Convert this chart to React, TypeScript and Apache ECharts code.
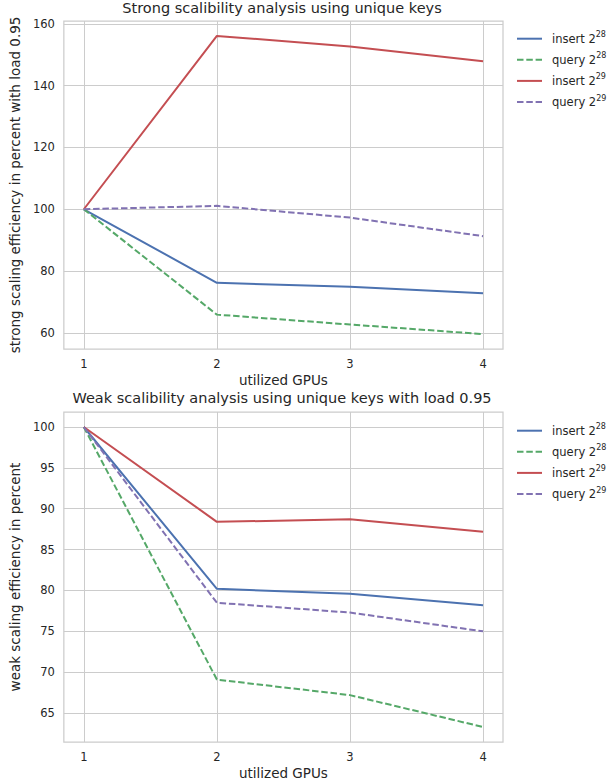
import React, { useEffect, useRef } from "react";
import * as echarts from "echarts";

const gpus = [1, 2, 3, 4];
const seriesBase = ["insert 2", "query 2", "insert 2", "query 2"];
const seriesExp = ["28", "28", "29", "29"];
const strongInsert28 = [100, 76.2, 74.9, 72.8];
const strongQuery28 = [100, 65.9, 62.7, 59.6];
const strongInsert29 = [100, 156.1, 152.7, 147.9];
const strongQuery29 = [100, 101.1, 97.3, 91.3];
const weakInsert28 = [100, 80.2, 79.6, 78.2];
const weakQuery28 = [100, 69.1, 67.2, 63.3];
const weakInsert29 = [100, 88.4, 88.7, 87.2];
const weakQuery29 = [100, 78.5, 77.3, 75.0];
const strongYTicks = [60, 80, 100, 120, 140, 160];
const weakYTicks = [65, 70, 75, 80, 85, 90, 95, 100];

const colors = ["#4C72B0", "#55A868", "#C44E52", "#8172B2"];
const dashed = [false, true, false, true];
const TEXT = "#262626";
const GRIDC = "#cccccc";
const FONT = "DejaVu Sans";

const seriesNames = seriesBase.map((b, i) => `${b}^${seriesExp[i]}`);

function range(arrs: number[][]) {
  const all = arrs.flat();
  const lo = Math.min(...all);
  const hi = Math.max(...all);
  const m = (hi - lo) * 0.05;
  return [lo - m, hi + m];
}

export default function App() {
  const ref = useRef<HTMLDivElement>(null);
  useEffect(() => {
    if (!ref.current) return;
    const chart = echarts.init(ref.current, undefined, { renderer: "svg" });
    const strong = [strongInsert28, strongQuery28, strongInsert29, strongQuery29];
    const weak = [weakInsert28, weakQuery28, weakInsert29, weakQuery29];
    const [sMin, sMax] = range(strong);
    const [wMin, wMax] = range(weak);
    const xm = (gpus[gpus.length - 1] - gpus[0]) * 0.05;

    const xAxis = (gridIndex: number) => ({
      type: "value",
      gridIndex,
      min: gpus[0] - xm,
      max: gpus[gpus.length - 1] + xm,
      name: "utilized GPUs",
      nameLocation: "middle",
      nameGap: 24,
      nameTextStyle: { fontFamily: FONT, fontSize: 13.5, color: TEXT },
      axisLine: { show: false },
      axisTick: { show: false, customValues: gpus },
      axisLabel: { customValues: gpus, fontFamily: FONT, fontSize: 11.5, color: TEXT, margin: 9 },
      splitLine: { show: true, lineStyle: { color: GRIDC, width: 1 } },
    });
    const yAxis = (gridIndex: number, min: number, max: number, ticks: number[], name: string) => ({
      type: "value",
      gridIndex,
      min,
      max,
      name,
      nameLocation: "middle",
      nameGap: 37,
      nameTextStyle: { fontFamily: FONT, fontSize: 13.5, color: TEXT },
      axisLine: { show: false },
      axisTick: { show: false, customValues: ticks },
      axisLabel: { customValues: ticks, fontFamily: FONT, fontSize: 11.5, color: TEXT, margin: 9 },
      splitLine: { show: true, lineStyle: { color: GRIDC, width: 1 } },
    });

    const mk = (data: number[][], idx: number) =>
      data.map((vals, i) => ({
        type: "line",
        name: seriesNames[i],
        xAxisIndex: idx,
        yAxisIndex: idx,
        data: vals.map((v, j) => [gpus[j], v]),
        symbol: "none",
        showSymbol: false,
        color: colors[i],
        lineStyle: { color: colors[i], width: 2, type: dashed[i] ? [6.5, 2.8] : "solid" },
        z: 3,
      }));

    const legend = (top: number) => ({
      orient: "vertical",
      left: 516,
      top,
      padding: 0,
      itemWidth: 25,
      itemHeight: 14,
      itemGap: 7.1,
      data: seriesNames,
      formatter: (name: string) => {
        const [b, e] = name.split("^");
        return `{b|${b}}{s|${e}}`;
      },
      itemStyle: { color: "transparent", borderColor: "transparent", borderWidth: 0, opacity: 0 },
      textStyle: {
        fontFamily: FONT,
        fontSize: 11.5,
        color: TEXT,
        padding: [0, 0, 0, 5],
        rich: {
          b: { fontFamily: FONT, fontSize: 11.5, color: TEXT, lineHeight: 16 },
          s: { fontFamily: FONT, fontSize: 8, color: TEXT, lineHeight: 8, verticalAlign: "top" },
        },
      },
    });

    chart.setOption({
      animation: false,
      backgroundColor: "#ffffff",
      title: [
        {
          text: "Strong scalibility analysis using unique keys",
          left: 282,
          textAlign: "center",
          top: 0,
          padding: 0,
          textStyle: { fontFamily: FONT, fontSize: 14.5, fontWeight: "normal", color: TEXT },
        },
        {
          text: "Weak scalibility analysis using unique keys with load 0.95",
          left: 282,
          textAlign: "center",
          top: 390,
          padding: 0,
          textStyle: { fontFamily: FONT, fontSize: 14.5, fontWeight: "normal", color: TEXT },
        },
      ],
      legend: [legend(30.7), legend(422.7)],
      grid: [
        { left: 61, top: 21, width: 442, height: 328, show: true, borderColor: GRIDC, borderWidth: 1.25, backgroundColor: "transparent" },
        { left: 61, top: 412, width: 442, height: 330, show: true, borderColor: GRIDC, borderWidth: 1.25, backgroundColor: "transparent" },
      ],
      xAxis: [xAxis(0), xAxis(1)],
      yAxis: [
        yAxis(0, sMin, sMax, strongYTicks, "strong scaling efficiency in percent with load 0.95"),
        yAxis(1, wMin, wMax, weakYTicks, "weak scaling efficiency in percent"),
      ],
      series: [...mk(strong, 0), ...mk(weak, 1)],
    });
    return () => chart.dispose();
  }, []);
  return <div ref={ref} style={{ width: 609, height: 784, position: "absolute", left: 0, top: 0 }} />;
}
